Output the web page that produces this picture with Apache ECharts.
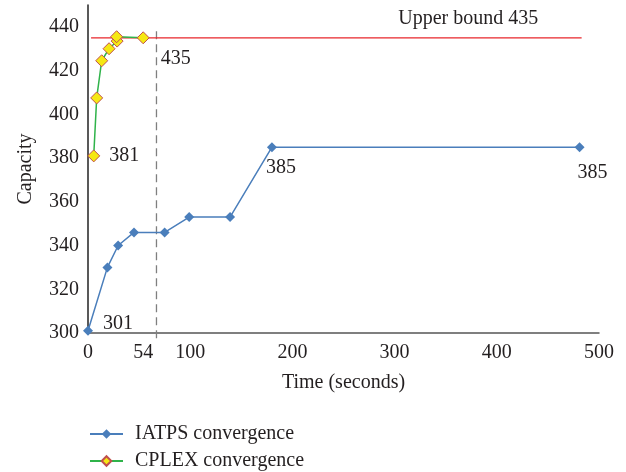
<!DOCTYPE html>
<html>
<head>
<meta charset="utf-8">
<script src="https://cdn.jsdelivr.net/npm/echarts@6/dist/echarts.min.js"></script>
<style>
  html, body { margin: 0; padding: 0; background: #fff; }
  #chart { width: 626px; height: 472px; }
</style>
</head>
<body>
<div id="chart"></div>
<script>
// data
const iatpsData = [[0, 301], [19, 330], [29.5, 340], [45, 346], [75, 346], [99, 353], [139, 353], [180, 385], [481, 385]];
const cplexData = [[5.6, 381], [8.5, 407.5], [13.4, 424.5], [20.6, 430], [28.5, 433.5], [28, 435.5], [54, 435]];
const upperBound = 435;
const upperBoundSpan = [3, 483];
const cutLineX = 67;
const xTickLabels = [0, 54, 100, 200, 300, 400, 500];
const yTickLabels = [300, 320, 340, 360, 380, 400, 420, 440];

const font = "'Liberation Serif', 'DejaVu Serif', serif";
const textColor = "#231f20";
const fs = 20;

const chart = echarts.init(document.getElementById("chart"));

const legendBase = {
  orient: "vertical",
  left: 84,
  itemWidth: 33,
  itemHeight: 12,
  textStyle: { fontFamily: font, fontSize: fs, color: textColor, padding: [0, 0, 0, 7] },
};

const option = {
  animation: false,
  textStyle: { fontFamily: font },
  grid: { left: 88, right: 27, top: 5, bottom: 139 },
  legend: [
    Object.assign({}, legendBase, { top: 419, data: ["IATPS convergence"] }),
    Object.assign({}, legendBase, { top: 446, data: ["CPLEX convergence"] }),
  ],
  xAxis: {
    type: "value",
    min: 0,
    max: 500,
    name: "Time (seconds)",
    nameLocation: "middle",
    nameGap: 40,
    nameTextStyle: { fontFamily: font, fontSize: fs, color: textColor },
    axisLine: { show: true, lineStyle: { color: "#555", width: 1.5 } },
    axisTick: { show: false },
    splitLine: { show: false },
    axisLabel: {
      customValues: xTickLabels,
      margin: 10,
      fontFamily: font,
      fontSize: fs,
      color: textColor,
    },
  },
  yAxis: {
    type: "value",
    min: 300,
    max: 450,
    name: "Capacity",
    nameLocation: "middle",
    nameGap: 52,
    nameTextStyle: { fontFamily: font, fontSize: fs, color: textColor },
    axisLine: { show: true, lineStyle: { color: "#222", width: 1.5 } },
    axisTick: { show: false },
    splitLine: { show: false },
    axisLabel: {
      customValues: yTickLabels,
      margin: 9,
      fontFamily: font,
      fontSize: fs,
      color: textColor,
    },
  },
  series: [
    {
      name: "IATPS convergence",
      type: "line",
      data: iatpsData,
      color: "#4a7ebb",
      symbol: "diamond",
      symbolSize: 10,
      clip: false,
      lineStyle: { color: "#4a7ebb", width: 1.5 },
      itemStyle: { color: "#4a7ebb" },
      label: {
        show: true,
        fontFamily: font,
        fontSize: fs,
        color: textColor,
        formatter: (p) => {
          const i = p.dataIndex;
          return i === 0 || i === iatpsData.length - 2 || i === iatpsData.length - 1 ? p.value[1] : "";
        },
        position: "bottom",
        distance: 8,
      },
      labelLayout: (params) => {
        const i = params.dataIndex;
        if (i === 0) return { dx: 30, dy: -30 };
        if (i === iatpsData.length - 1) return { dx: 13, dy: 3 };
        if (i === iatpsData.length - 2) return { dx: 9, dy: -2 };
        return {};
      },
      z: 3,
    },
    {
      name: "CPLEX convergence",
      type: "line",
      data: cplexData,
      color: "#f5e813",
      symbol: "diamond",
      symbolSize: 12,
      clip: false,
      lineStyle: { color: "#2fb34a", width: 1.5 },
      itemStyle: { color: "#f5e813", borderColor: "#c0504d", borderWidth: 1 },
      label: {
        show: true,
        fontFamily: font,
        fontSize: fs,
        color: textColor,
        formatter: (p) => {
          const i = p.dataIndex;
          if (i === 0) return p.value[1];
          if (i === cplexData.length - 1) return p.value[1];
          return "";
        },
        position: "right",
        distance: 6,
      },
      labelLayout: (params) => {
        const i = params.dataIndex;
        if (i === 0) return { dx: 3, dy: 0 };
        if (i === cplexData.length - 1) return { dx: 5, dy: 21 };
        return {};
      },
      z: 4,
    },
    {
      name: "upper",
      type: "line",
      data: [[upperBoundSpan[0], upperBound], [upperBoundSpan[1], upperBound]],
      symbol: "none",
      clip: false,
      silent: true,
      lineStyle: { color: "#e8262b", width: 1.3 },
      markPoint: {
        symbol: "circle",
        symbolSize: 1,
        itemStyle: { color: "rgba(0,0,0,0)" },
        data: [{ name: "Upper bound " + upperBound, coord: [372, upperBound] }],
        label: {
          show: true,
          position: "top",
          distance: 9,
          formatter: "{b}",
          fontFamily: font,
          fontSize: fs,
          color: textColor,
        },
      },
      z: 2,
    },
    {
      name: "cut",
      type: "line",
      data: [[cutLineX, 438], [cutLineX, 296]],
      symbol: "none",
      clip: false,
      silent: true,
      lineStyle: { color: "#7f7f7f", width: 1.3, type: [8, 5] },
      z: 1,
    },
  ],
};

chart.setOption(option);
</script>
</body>
</html>
